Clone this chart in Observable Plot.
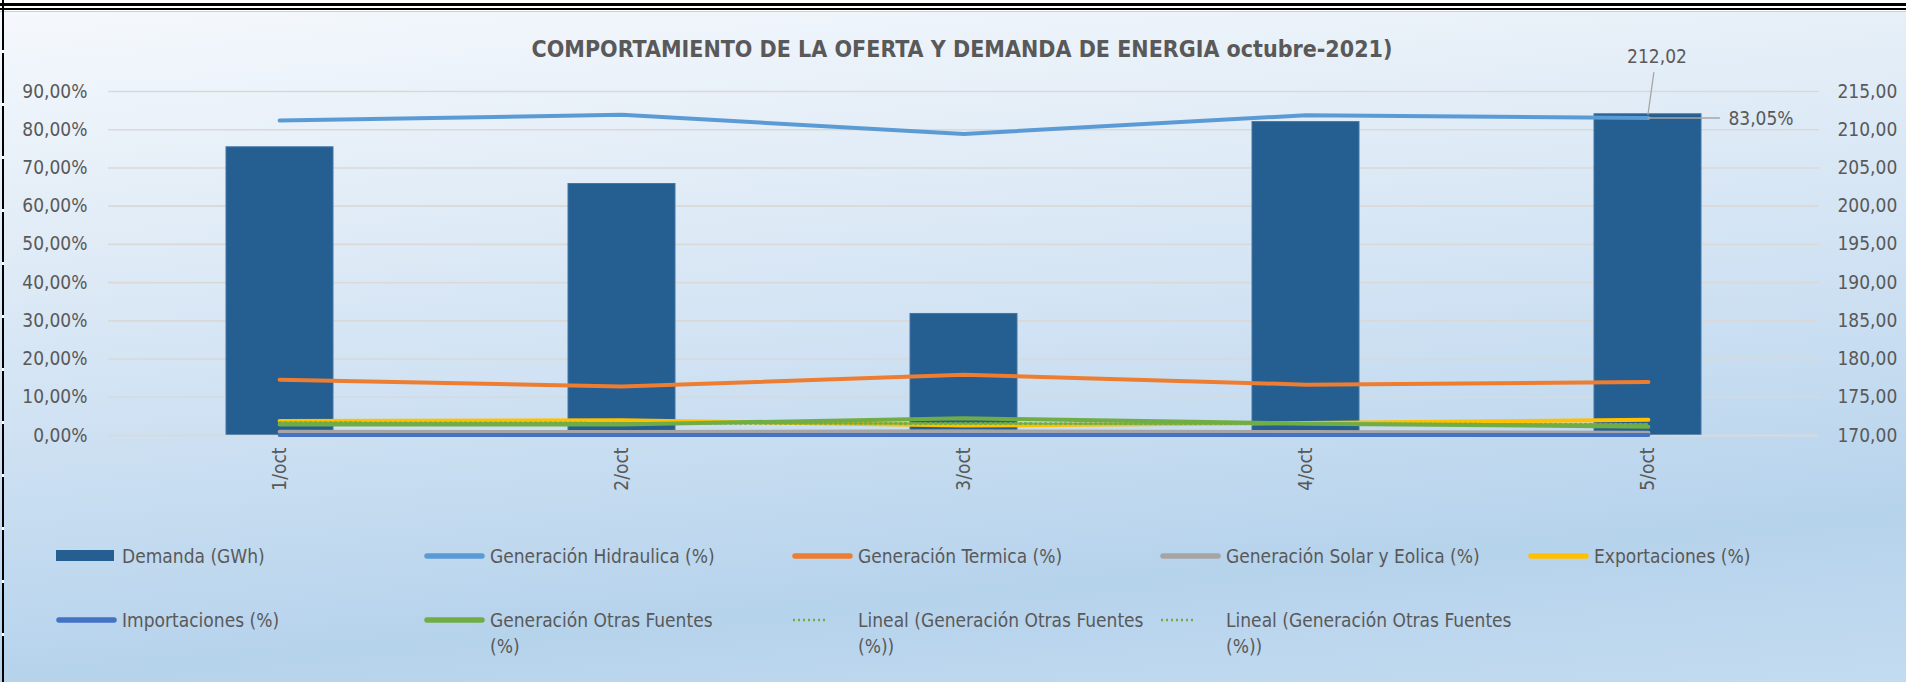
<!DOCTYPE html>
<html>
<head>
<meta charset="utf-8">
<script src="https://cdn.jsdelivr.net/npm/d3@7"></script>
<script src="https://cdn.jsdelivr.net/npm/@observablehq/plot@0.6"></script>
<style>
html, body { margin: 0; padding: 0; }
body { width: 1906px; height: 682px; overflow: hidden; background: #fff;
  font-family: "Liberation Sans Narrow", "DejaVu Sans Condensed", "Liberation Sans", sans-serif; }
#wrap { position: relative; width: 1906px; height: 682px; overflow: hidden;
  background: linear-gradient(175deg, #F6F9FD 0%, #E6EFF8 22%, #D0E2F3 50%, #B6D3EC 80%, #C3DBF0 100%); }
#topstrip { position: absolute; left: 0; top: 0; width: 1906px; height: 11px; background: #fff;
  border-bottom: 1px solid #d0d0d0; }
#topstrip .l1 { position: absolute; left: 0; right: 0; top: 3px; height: 3px; background: #000; }
#topstrip .l2 { position: absolute; left: 0; right: 0; top: 8px; height: 2px; background: #000; }
#leftedge { position: absolute; left: 2px; top: 0; width: 2px; height: 682px;
  background: repeating-linear-gradient(180deg, #000 0 50px, #fff 50px 53px); }
#title { position: absolute; left: 962px; top: 34px; transform: translateX(-50%); white-space: nowrap;
  font-weight: bold; font-size: 23px; line-height: 30px; color: #595959; }
.layer { position: absolute; left: 0; top: 0; }
#legend { position: absolute; left: 0; top: 0; width: 1906px; height: 682px; }
.item { position: absolute; display: flex; align-items: flex-start; color: #595959; font-size: 19px; line-height: 26px; white-space: nowrap; }
.sw { width: 61px; height: 26px; position: relative; margin-right: 5px; flex: none; }
</style>
</head>
<body>
<div id="wrap">
  <div id="topstrip"><div class="l1"></div><div class="l2"></div></div>
  <div id="leftedge"></div>
  <div id="bars" class="layer"></div>
  <div id="lines" class="layer"></div>
  <div id="title">COMPORTAMIENTO DE LA OFERTA Y DEMANDA DE ENERGIA octubre-2021)</div>
  <div id="legend"></div>
</div>
<script>
// ---- data ----
const categories = ["1/oct", "2/oct", "3/oct", "4/oct", "5/oct"];
const demanda = [207.7, 202.9, 185.9, 211.0, 212.02];          // GWh (right axis)
const hidraulica = [82.4, 83.9, 78.9, 83.8, 83.05];            // %
const termica = [14.6, 12.8, 15.9, 13.3, 14.0];                // %
const solarEolica = [1.0, 0.9, 1.1, 0.9, 0.7];                 // %
const exportaciones = [3.8, 4.0, 2.6, 3.3, 4.1];               // %
const importaciones = [0.1, 0.1, 0.1, 0.1, 0.1];               // %
const otrasFuentes = [2.9, 2.9, 4.5, 3.1, 2.3];                // %
const leftTicks = [0, 10, 20, 30, 40, 50, 60, 70, 80, 90];
const rightTicks = [170, 175, 180, 185, 190, 195, 200, 205, 210, 215];

const seriesNames = ["Demanda (GWh)", "Generación Hidraulica (%)", "Generación Termica (%)",
  "Generación Solar y Eolica (%)", "Exportaciones (%)", "Importaciones (%)",
  "Generación Otras Fuentes (%)", "Lineal (Generación Otras Fuentes (%))", "Lineal (Generación Otras Fuentes (%))"];
const colors = {
  demanda: "#255E91", hidraulica: "#5B9BD5", termica: "#ED7D31", solar: "#A5A5A5",
  export: "#FFC000", import: "#4472C4", otras: "#70AD47"
};

// ---- layout ----
const W = 1906, H = 540;
const mL = 108, mR = 87, mT = 91, mB = H - 435;
const fontFam = '"Liberation Sans Narrow", "DejaVu Sans Condensed", "Liberation Sans", sans-serif';
const textColor = "#595959";
const fmtPct = d => d.toFixed(2).replace(".", ",") + "%";
const fmtNum = d => d.toFixed(2).replace(".", ",");
const idx = d3.range(categories.length);
const barData = categories.map((c, i) => ({cat: c, v: demanda[i]}));
const leader = {draw(context, l) { context.moveTo(0, 0); context.lineTo(0, -l); }};

const barPlot = Plot.plot({
  width: W, height: H, marginLeft: mL, marginRight: mR, marginTop: mT, marginBottom: mB,
  style: {background: "transparent", fontFamily: fontFam, color: textColor, overflow: "visible"},
  x: {type: "band", domain: categories, paddingInner: 0.686, paddingOuter: 0.343, axis: null},
  y: {domain: [rightTicks[0], rightTicks[rightTicks.length - 1]], axis: null},
  marks: [
    Plot.ruleY(rightTicks, {stroke: "#D9D9D9", strokeWidth: 1.6}),
    Plot.barY(barData, {x: "cat", y1: rightTicks[0], y2: "v", fill: colors.demanda, stroke: "#4377A6", strokeWidth: 1}),
    Plot.axisY({anchor: "right", ticks: rightTicks, tickSize: 0, tickPadding: 18, fontSize: 19,
      tickFormat: fmtNum, label: null, fill: textColor}),
    Plot.vector([barData[4]], {x: "cat", y: "v", length: 42, rotate: 8, anchor: "start",
      shape: leader, stroke: "#A6A6A6", strokeWidth: 1.3}),
    Plot.text([barData[4]], {x: "cat", y: "v", text: d => fmtNum(d.v), dx: 9, dy: -57,
      fontSize: 19, fill: textColor})
  ]
});
document.getElementById("bars").appendChild(barPlot);

const lineSeries = [
  {vals: hidraulica, color: colors.hidraulica},
  {vals: termica, color: colors.termica},
  {vals: solarEolica, color: colors.solar},
  {vals: exportaciones, color: colors.export},
  {vals: importaciones, color: colors.import},
  {vals: otrasFuentes, color: colors.otras}
];

const linePlot = Plot.plot({
  width: W, height: H, marginLeft: mL, marginRight: mR, marginTop: mT, marginBottom: mB,
  style: {background: "transparent", fontFamily: fontFam, color: textColor, overflow: "visible"},
  x: {domain: [-0.5, categories.length - 0.5], axis: null},
  y: {domain: [leftTicks[0], leftTicks[leftTicks.length - 1]], axis: null},
  marks: [
    Plot.ruleY([leftTicks[0]], {stroke: "#D9D9D9", strokeWidth: 1.6}),
    ...lineSeries.map(s => Plot.lineY(idx, {x: i => i, y: i => s.vals[i], stroke: s.color,
      strokeWidth: 4, strokeLinecap: "round", strokeLinejoin: "round"})),
    Plot.linearRegressionY(idx, {x: i => i, y: i => otrasFuentes[i], stroke: colors.otras,
      strokeWidth: 2.4, strokeDasharray: "2,3", ci: 0}),
    Plot.linearRegressionY(idx, {x: i => i, y: i => otrasFuentes[i], stroke: colors.otras,
      strokeWidth: 2.4, strokeDasharray: "2,3", ci: 0}),
    Plot.axisY({anchor: "left", ticks: leftTicks, tickSize: 0, tickPadding: 21, fontSize: 19,
      tickFormat: fmtPct, label: null, fill: textColor}),
    Plot.axisX({ticks: idx, tickFormat: i => categories[i], tickRotate: -90, tickSize: 0,
      tickPadding: 12, fontSize: 19, label: null, fill: textColor}),
    Plot.vector([4], {x: i => i, y: i => hidraulica[i], length: 71, rotate: 90, anchor: "start",
      shape: leader, stroke: "#A6A6A6", strokeWidth: 1.5}),
    Plot.text([4], {x: i => i, y: i => hidraulica[i], text: i => fmtPct(hidraulica[i]),
      dx: 80, dy: 1, textAnchor: "start", fontSize: 19, fill: textColor})
  ]
});
document.getElementById("lines").appendChild(linePlot);

// ---- legend ----
const legendItems = [
  {name: seriesNames[0], col: 0, row: 0, type: "rect", color: colors.demanda},
  {name: seriesNames[1], col: 1, row: 0, type: "line", color: colors.hidraulica},
  {name: seriesNames[2], col: 2, row: 0, type: "line", color: colors.termica},
  {name: seriesNames[3], col: 3, row: 0, type: "line", color: colors.solar},
  {name: seriesNames[4], col: 4, row: 0, type: "line", color: colors.export},
  {name: seriesNames[5], col: 0, row: 1, type: "line", color: colors.import},
  {name: "Generación Otras Fuentes\n(%)", col: 1, row: 1, type: "line", color: colors.otras},
  {name: "Lineal (Generación Otras Fuentes\n(%))", col: 2, row: 1, type: "dot", color: colors.otras},
  {name: "Lineal (Generación Otras Fuentes\n(%))", col: 3, row: 1, type: "dot", color: colors.otras}
];
const legend = document.getElementById("legend");
legendItems.forEach(it => {
  const el = document.createElement("div");
  el.className = "item";
  el.style.left = (56 + it.col * 368) + "px";
  el.style.top = (543 + it.row * 64) + "px";
  let sw;
  if (it.type === "rect") sw = `<svg class="sw" width="61" height="26"><rect x="0" y="7" width="58" height="11" fill="${it.color}"/></svg>`;
  else if (it.type === "line") sw = `<svg class="sw" width="61" height="26"><line x1="3" x2="58" y1="13" y2="13" stroke="${it.color}" stroke-width="5.5" stroke-linecap="round"/></svg>`;
  else sw = `<svg class="sw" width="61" height="26"><line x1="1" x2="36" y1="13" y2="13" stroke="${it.color}" stroke-width="2.5" stroke-dasharray="2,3"/></svg>`;
  const lines = it.name.split("\n").map(t => `<div>${t}</div>`).join("");
  el.innerHTML = sw + `<div>${lines}</div>`;
  legend.appendChild(el);
});
</script>
</body>
</html>
